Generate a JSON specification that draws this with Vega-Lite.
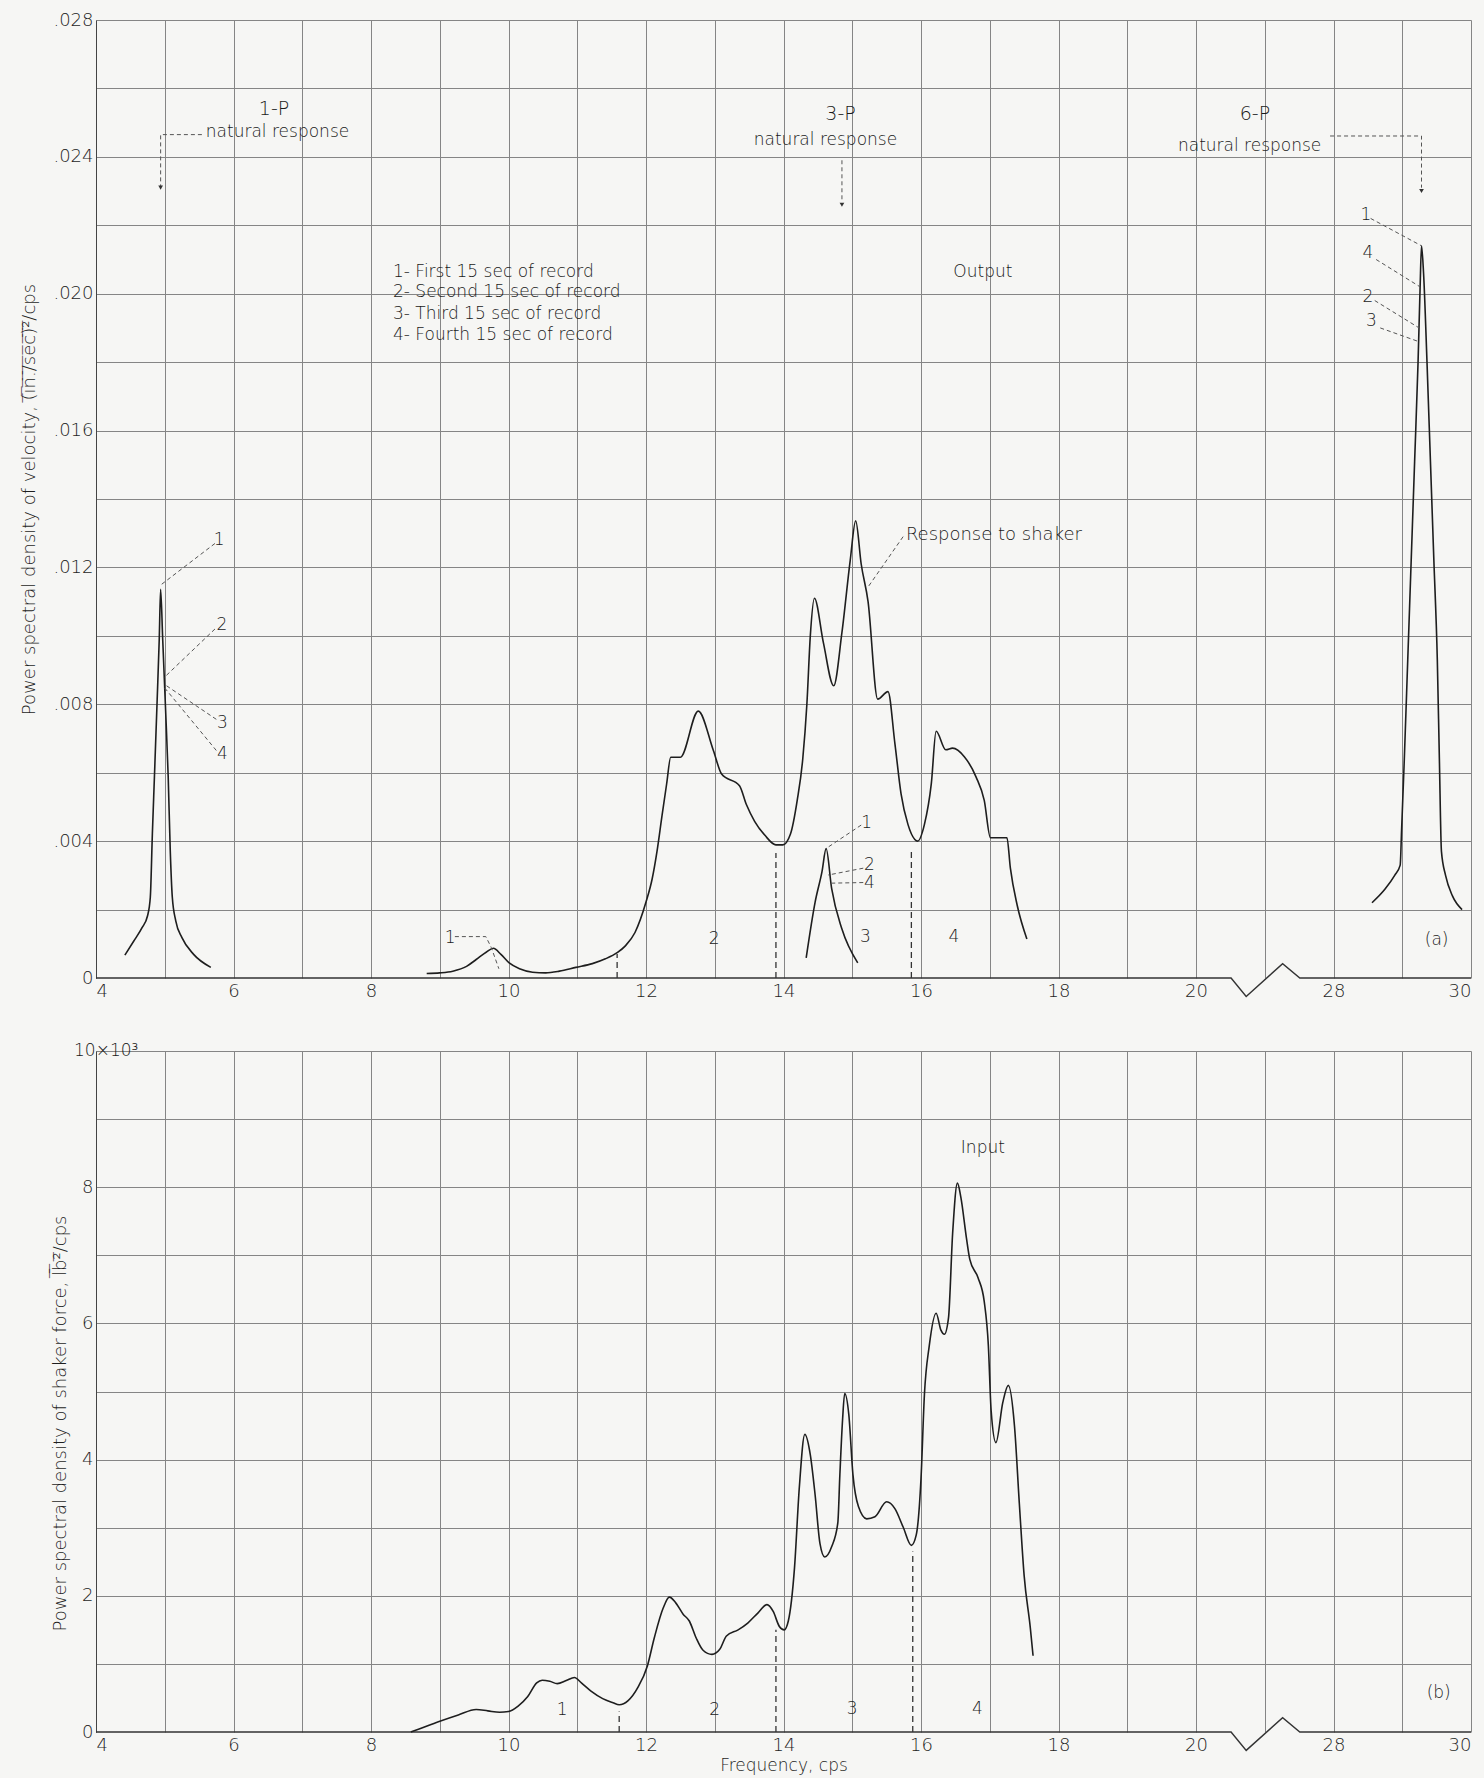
{
  "$schema": "https://vega.github.io/schema/vega-lite/v6.json",
  "background": "#f6f6f4",
  "padding": {"left": 20, "top": 11, "right": 10, "bottom": 5},
  "config": {
    "font": "DejaVu Sans",
    "view": {"stroke": null},
    "axis": {"labelFont": "DejaVu Sans", "titleFont": "DejaVu Sans", "labelFontSize": 18, "titleFontSize": 18, "labelColor": "#1e1e1e", "titleColor": "#1e1e1e", "labelFontWeight": 200, "titleFontWeight": 200, "ticks": false, "gridColor": "#858585", "gridWidth": 1, "domainColor": "#444", "labelOverlap": false},
    "text": {"font": "DejaVu Sans", "color": "#1a1a1a", "fontWeight": 200}
  },
  "datasets": {
    "top_axis": [{"x": 4, "y": 0}, {"x": 22.04, "y": 0}, {"x": 22.92, "y": -0.00054}, {"x": 25.04, "y": 0.00042}, {"x": 26.04, "y": 0}, {"x": 30, "y": 0}],
    "bot_axis": [{"x": 4, "y": 0}, {"x": 22.04, "y": 0}, {"x": 22.92, "y": -0.27}, {"x": 25.04, "y": 0.21}, {"x": 26.04, "y": 0}, {"x": 30, "y": 0}],
    "top_curves": [
      {"seg": "p1", "x": 4.42, "y": 0.00067}, {"seg": "p1", "x": 4.55, "y": 0.00108}, {"seg": "p1", "x": 4.67, "y": 0.00147}, {"seg": "p1", "x": 4.75, "y": 0.00182}, {"seg": "p1", "x": 4.79, "y": 0.00236}, {"seg": "p1", "x": 4.82, "y": 0.00422}, {"seg": "p1", "x": 4.85, "y": 0.00589}, {"seg": "p1", "x": 4.89, "y": 0.00815}, {"seg": "p1", "x": 4.92, "y": 0.00991}, {"seg": "p1", "x": 4.94, "y": 0.01136}, {"seg": "p1", "x": 4.97, "y": 0.00991}, {"seg": "p1", "x": 5.01, "y": 0.00795}, {"seg": "p1", "x": 5.05, "y": 0.00589}, {"seg": "p1", "x": 5.08, "y": 0.00373}, {"seg": "p1", "x": 5.11, "y": 0.00236}, {"seg": "p1", "x": 5.16, "y": 0.00167}, {"seg": "p1", "x": 5.25, "y": 0.00118}, {"seg": "p1", "x": 5.42, "y": 0.00069}, {"seg": "p1", "x": 5.67, "y": 0.00031},
      {"seg": "main", "x": 8.81, "y": 0.00013}, {"seg": "main", "x": 9.0, "y": 0.00015}, {"seg": "main", "x": 9.19, "y": 0.0002}, {"seg": "main", "x": 9.39, "y": 0.00034}, {"seg": "main", "x": 9.53, "y": 0.00054}, {"seg": "main", "x": 9.68, "y": 0.00076}, {"seg": "main", "x": 9.78, "y": 0.00087}, {"seg": "main", "x": 9.89, "y": 0.00069}, {"seg": "main", "x": 10.01, "y": 0.00044}, {"seg": "main", "x": 10.16, "y": 0.00027}, {"seg": "main", "x": 10.35, "y": 0.00017}, {"seg": "main", "x": 10.54, "y": 0.00015}, {"seg": "main", "x": 10.74, "y": 0.0002}, {"seg": "main", "x": 10.98, "y": 0.00031}, {"seg": "main", "x": 11.22, "y": 0.00042}, {"seg": "main", "x": 11.41, "y": 0.00056}, {"seg": "main", "x": 11.58, "y": 0.00074}, {"seg": "main", "x": 11.7, "y": 0.00094}, {"seg": "main", "x": 11.84, "y": 0.00133}, {"seg": "main", "x": 12.0, "y": 0.00222}, {"seg": "main", "x": 12.09, "y": 0.0029}, {"seg": "main", "x": 12.16, "y": 0.0037}, {"seg": "main", "x": 12.23, "y": 0.0047}, {"seg": "main", "x": 12.3, "y": 0.00567}, {"seg": "main", "x": 12.36, "y": 0.00645}, {"seg": "main", "x": 12.5, "y": 0.00645}, {"seg": "main", "x": 12.76, "y": 0.0078}, {"seg": "main", "x": 12.98, "y": 0.00665}, {"seg": "main", "x": 13.1, "y": 0.00596}, {"seg": "main", "x": 13.36, "y": 0.00562}, {"seg": "main", "x": 13.46, "y": 0.00507}, {"seg": "main", "x": 13.58, "y": 0.00458}, {"seg": "main", "x": 13.73, "y": 0.00417}, {"seg": "main", "x": 13.89, "y": 0.00389}, {"seg": "main", "x": 13.99, "y": 0.00389}, {"seg": "main", "x": 14.1, "y": 0.0042}, {"seg": "main", "x": 14.2, "y": 0.0052}, {"seg": "main", "x": 14.28, "y": 0.0064}, {"seg": "main", "x": 14.34, "y": 0.008}, {"seg": "main", "x": 14.39, "y": 0.01}, {"seg": "main", "x": 14.45, "y": 0.0111}, {"seg": "main", "x": 14.58, "y": 0.0098}, {"seg": "main", "x": 14.73, "y": 0.00854}, {"seg": "main", "x": 14.85, "y": 0.0101}, {"seg": "main", "x": 14.97, "y": 0.0122}, {"seg": "main", "x": 15.05, "y": 0.01336}, {"seg": "main", "x": 15.13, "y": 0.0121}, {"seg": "main", "x": 15.23, "y": 0.011}, {"seg": "main", "x": 15.37, "y": 0.00815}, {"seg": "main", "x": 15.52, "y": 0.00837}, {"seg": "main", "x": 15.62, "y": 0.00686}, {"seg": "main", "x": 15.71, "y": 0.00538}, {"seg": "main", "x": 15.81, "y": 0.00449}, {"seg": "main", "x": 15.91, "y": 0.00405}, {"seg": "main", "x": 15.95, "y": 0.004}, {"seg": "main", "x": 16.05, "y": 0.00449}, {"seg": "main", "x": 16.15, "y": 0.00568}, {"seg": "main", "x": 16.22, "y": 0.00721}, {"seg": "main", "x": 16.36, "y": 0.00667}, {"seg": "main", "x": 16.46, "y": 0.00672}, {"seg": "main", "x": 16.63, "y": 0.00647}, {"seg": "main", "x": 16.8, "y": 0.00588}, {"seg": "main", "x": 16.92, "y": 0.00519}, {"seg": "main", "x": 17.01, "y": 0.0041}, {"seg": "main", "x": 17.25, "y": 0.0041}, {"seg": "main", "x": 17.3, "y": 0.00321}, {"seg": "main", "x": 17.4, "y": 0.00212}, {"seg": "main", "x": 17.54, "y": 0.00114},
      {"seg": "sub", "x": 14.33, "y": 0.00059}, {"seg": "sub", "x": 14.46, "y": 0.00222}, {"seg": "sub", "x": 14.56, "y": 0.00311}, {"seg": "sub", "x": 14.62, "y": 0.00378}, {"seg": "sub", "x": 14.7, "y": 0.00262}, {"seg": "sub", "x": 14.85, "y": 0.00143}, {"seg": "sub", "x": 15.08, "y": 0.00044},
      {"seg": "p6", "x": 28.56, "y": 0.0022}, {"seg": "p6", "x": 28.75, "y": 0.0026}, {"seg": "p6", "x": 28.89, "y": 0.003}, {"seg": "p6", "x": 28.97, "y": 0.0033}, {"seg": "p6", "x": 28.99, "y": 0.0043}, {"seg": "p6", "x": 29.03, "y": 0.0064}, {"seg": "p6", "x": 29.08, "y": 0.0093}, {"seg": "p6", "x": 29.13, "y": 0.0122}, {"seg": "p6", "x": 29.18, "y": 0.0151}, {"seg": "p6", "x": 29.23, "y": 0.018}, {"seg": "p6", "x": 29.26, "y": 0.0202}, {"seg": "p6", "x": 29.28, "y": 0.0214}, {"seg": "p6", "x": 29.31, "y": 0.0206}, {"seg": "p6", "x": 29.36, "y": 0.018}, {"seg": "p6", "x": 29.41, "y": 0.0151}, {"seg": "p6", "x": 29.46, "y": 0.0122}, {"seg": "p6", "x": 29.51, "y": 0.0093}, {"seg": "p6", "x": 29.54, "y": 0.0064}, {"seg": "p6", "x": 29.57, "y": 0.0037}, {"seg": "p6", "x": 29.63, "y": 0.003}, {"seg": "p6", "x": 29.73, "y": 0.0024}, {"seg": "p6", "x": 29.87, "y": 0.002}
    ],
    "top_rules": [{"x": 11.58, "y": 0, "y2": 0.0007}, {"x": 13.89, "y": 0, "y2": 0.00365}, {"x": 15.86, "y": 0, "y2": 0.0038}],
    "top_lead": [
      {"id": "a", "o": 0, "x": 5.54, "y": 0.02465}, {"id": "a", "o": 1, "x": 4.94, "y": 0.02465}, {"id": "a", "o": 2, "x": 4.94, "y": 0.02313},
      {"id": "b", "o": 0, "x": 14.85, "y": 0.0239}, {"id": "b", "o": 1, "x": 14.85, "y": 0.0227},
      {"id": "c", "o": 0, "x": 27.8, "y": 0.02461}, {"id": "c", "o": 1, "x": 29.28, "y": 0.02461}, {"id": "c", "o": 2, "x": 29.28, "y": 0.0231},
      {"id": "d1", "o": 0, "x": 5.73, "y": 0.0127}, {"id": "d1", "o": 1, "x": 4.95, "y": 0.0115},
      {"id": "d2", "o": 0, "x": 5.73, "y": 0.0102}, {"id": "d2", "o": 1, "x": 4.99, "y": 0.00878},
      {"id": "d3", "o": 0, "x": 5.75, "y": 0.00756}, {"id": "d3", "o": 1, "x": 4.99, "y": 0.00859},
      {"id": "d4", "o": 0, "x": 5.75, "y": 0.00665}, {"id": "d4", "o": 1, "x": 4.99, "y": 0.0085},
      {"id": "e", "o": 0, "x": 9.22, "y": 0.00121}, {"id": "e", "o": 1, "x": 9.67, "y": 0.00121}, {"id": "e", "o": 2, "x": 9.75, "y": 0.00089}, {"id": "e", "o": 3, "x": 9.86, "y": 0.00027},
      {"id": "f1", "o": 0, "x": 15.13, "y": 0.00447}, {"id": "f1", "o": 1, "x": 14.63, "y": 0.0038},
      {"id": "f2", "o": 0, "x": 15.16, "y": 0.00321}, {"id": "f2", "o": 1, "x": 14.65, "y": 0.00301},
      {"id": "f4", "o": 0, "x": 15.16, "y": 0.00279}, {"id": "f4", "o": 1, "x": 14.65, "y": 0.00277},
      {"id": "g", "o": 0, "x": 15.74, "y": 0.0129}, {"id": "g", "o": 1, "x": 15.22, "y": 0.0114},
      {"id": "h1", "o": 0, "x": 28.54, "y": 0.0222}, {"id": "h1", "o": 1, "x": 29.28, "y": 0.0214},
      {"id": "h4", "o": 0, "x": 28.62, "y": 0.021}, {"id": "h4", "o": 1, "x": 29.26, "y": 0.0202},
      {"id": "h2", "o": 0, "x": 28.6, "y": 0.0198}, {"id": "h2", "o": 1, "x": 29.245, "y": 0.019},
      {"id": "h3", "o": 0, "x": 28.68, "y": 0.019}, {"id": "h3", "o": 1, "x": 29.24, "y": 0.0186}
    ],
    "top_dots": [{"x": 4.94, "y": 0.0231}, {"x": 14.85, "y": 0.0226}, {"x": 29.28, "y": 0.023}],
    "top_text": [
      {"k": "h", "x": 6.59, "y": 0.0254, "t": "1-P"},
      {"k": "s", "x": 6.64, "y": 0.02472, "t": "natural response"},
      {"k": "h", "x": 14.83, "y": 0.02525, "t": "3-P"},
      {"k": "s", "x": 14.61, "y": 0.0245, "t": "natural response"},
      {"k": "h", "x": 23.43, "y": 0.02525, "t": "6-P"},
      {"k": "s", "x": 23.12, "y": 0.02432, "t": "natural response"},
      {"k": "l", "x": 8.32, "y": 0.02064, "t": "1- First 15 sec of record"},
      {"k": "l", "x": 8.32, "y": 0.02005, "t": "2- Second 15 sec of record"},
      {"k": "l", "x": 8.32, "y": 0.01942, "t": "3- Third 15 sec of record"},
      {"k": "l", "x": 8.32, "y": 0.01878, "t": "4- Fourth 15 sec of record"},
      {"k": "r", "x": 15.78, "y": 0.01294, "t": "Response to shaker"},
      {"k": "n", "x": 16.9, "y": 0.02064, "t": "Output"},
      {"k": "n", "x": 5.79, "y": 0.0128, "t": "1"},
      {"k": "n", "x": 5.83, "y": 0.01032, "t": "2"},
      {"k": "n", "x": 5.84, "y": 0.00744, "t": "3"},
      {"k": "n", "x": 5.84, "y": 0.00656, "t": "4"},
      {"k": "n", "x": 9.15, "y": 0.00118, "t": "1"},
      {"k": "n", "x": 12.99, "y": 0.00113, "t": "2"},
      {"k": "n", "x": 15.19, "y": 0.00121, "t": "3"},
      {"k": "n", "x": 16.48, "y": 0.00119, "t": "4"},
      {"k": "n", "x": 15.21, "y": 0.00454, "t": "1"},
      {"k": "n", "x": 15.25, "y": 0.00331, "t": "2"},
      {"k": "n", "x": 15.25, "y": 0.00277, "t": "4"},
      {"k": "n", "x": 28.47, "y": 0.0223, "t": "1"},
      {"k": "n", "x": 28.5, "y": 0.0212, "t": "4"},
      {"k": "n", "x": 28.5, "y": 0.0199, "t": "2"},
      {"k": "n", "x": 28.55, "y": 0.0192, "t": "3"},
      {"k": "n", "x": 29.5, "y": 0.0011, "t": "(a)"}
    ],
    "bot_curve": [
      {"x": 8.58, "y": 0}, {"x": 8.69, "y": 0.04}, {"x": 8.98, "y": 0.15}, {"x": 9.27, "y": 0.25}, {"x": 9.53, "y": 0.33}, {"x": 9.7, "y": 0.31}, {"x": 9.87, "y": 0.29}, {"x": 10.0, "y": 0.3}, {"x": 10.14, "y": 0.38}, {"x": 10.28, "y": 0.52}, {"x": 10.41, "y": 0.72}, {"x": 10.49, "y": 0.76}, {"x": 10.6, "y": 0.745}, {"x": 10.71, "y": 0.71}, {"x": 10.84, "y": 0.755}, {"x": 10.96, "y": 0.8}, {"x": 11.06, "y": 0.72}, {"x": 11.2, "y": 0.6}, {"x": 11.37, "y": 0.49}, {"x": 11.52, "y": 0.43}, {"x": 11.61, "y": 0.4}, {"x": 11.74, "y": 0.46}, {"x": 11.88, "y": 0.65}, {"x": 12.02, "y": 0.97}, {"x": 12.12, "y": 1.38}, {"x": 12.25, "y": 1.82}, {"x": 12.34, "y": 1.98}, {"x": 12.43, "y": 1.9}, {"x": 12.54, "y": 1.73}, {"x": 12.63, "y": 1.63}, {"x": 12.73, "y": 1.38}, {"x": 12.83, "y": 1.2}, {"x": 12.96, "y": 1.14}, {"x": 13.07, "y": 1.21}, {"x": 13.17, "y": 1.41}, {"x": 13.34, "y": 1.5}, {"x": 13.48, "y": 1.6}, {"x": 13.63, "y": 1.75}, {"x": 13.76, "y": 1.87}, {"x": 13.85, "y": 1.77}, {"x": 13.94, "y": 1.55}, {"x": 14.01, "y": 1.5}, {"x": 14.07, "y": 1.63}, {"x": 14.16, "y": 2.41}, {"x": 14.23, "y": 3.59}, {"x": 14.31, "y": 4.37}, {"x": 14.39, "y": 4.07}, {"x": 14.46, "y": 3.48}, {"x": 14.53, "y": 2.77}, {"x": 14.6, "y": 2.57}, {"x": 14.7, "y": 2.72}, {"x": 14.79, "y": 3.07}, {"x": 14.82, "y": 3.78}, {"x": 14.86, "y": 4.6}, {"x": 14.89, "y": 4.97}, {"x": 14.95, "y": 4.66}, {"x": 15.01, "y": 3.78}, {"x": 15.09, "y": 3.31}, {"x": 15.21, "y": 3.13}, {"x": 15.33, "y": 3.16}, {"x": 15.5, "y": 3.38}, {"x": 15.62, "y": 3.28}, {"x": 15.74, "y": 3.01}, {"x": 15.86, "y": 2.74}, {"x": 15.93, "y": 2.89}, {"x": 16.0, "y": 3.72}, {"x": 16.05, "y": 4.96}, {"x": 16.12, "y": 5.67}, {"x": 16.22, "y": 6.15}, {"x": 16.29, "y": 5.9}, {"x": 16.34, "y": 5.84}, {"x": 16.4, "y": 6.08}, {"x": 16.46, "y": 7.32}, {"x": 16.53, "y": 8.06}, {"x": 16.58, "y": 7.85}, {"x": 16.66, "y": 7.26}, {"x": 16.71, "y": 6.94}, {"x": 16.83, "y": 6.67}, {"x": 16.92, "y": 6.32}, {"x": 16.98, "y": 5.67}, {"x": 17.02, "y": 4.72}, {"x": 17.09, "y": 4.25}, {"x": 17.19, "y": 4.84}, {"x": 17.27, "y": 5.09}, {"x": 17.36, "y": 4.49}, {"x": 17.43, "y": 3.36}, {"x": 17.5, "y": 2.3}, {"x": 17.59, "y": 1.53}, {"x": 17.63, "y": 1.12}
    ],
    "bot_rules": [{"x": 11.61, "y": 0, "y2": 0.3}, {"x": 13.89, "y": 0, "y2": 1.5}, {"x": 15.88, "y": 0, "y2": 2.65}],
    "bot_text": [
      {"x": 10.78, "y": 0.33, "t": "1"}, {"x": 13.0, "y": 0.33, "t": "2"}, {"x": 15.0, "y": 0.34, "t": "3"}, {"x": 16.82, "y": 0.34, "t": "4"}, {"x": 16.9, "y": 8.57, "t": "Input"}, {"x": 29.53, "y": 0.57, "t": "(b)"}
    ],
    "bot_corner": [{"x": 4, "y": 10, "t": "10×10³"}]
  },
  "spacing": 73,
  "bounds": "flush",
  "vconcat": [
    {
      "width": 1375,
      "height": 958,
      "encoding": {
        "x": {"field": "x", "type": "quantitative",
          "scale": {"domain": [4, 20, 28, 30], "range": [0, 1100, 1237.5, 1375], "nice": false, "zero": false},
          "axis": {"values": [4, 5, 6, 7, 8, 9, 10, 11, 12, 13, 14, 15, 16, 17, 18, 19, 20, 24, 28, 29, 30], "labelExpr": "indexof([4,6,8,10,12,14,16,18,20,28,30], datum.value) >= 0 ? datum.label : ''", "domain": false, "labelPadding": 4, "title": null}},
        "y": {"field": "y", "type": "quantitative",
          "scale": {"domain": [0, 0.028], "nice": false, "zero": false},
          "axis": {"values": [0, 0.002, 0.004, 0.006, 0.008, 0.01, 0.012, 0.014, 0.016, 0.018, 0.02, 0.022, 0.024, 0.026, 0.028], "labelExpr": "datum.value == 0 ? '0' : (round(datum.value * 1000) % 4 == 0 ? replace(format(datum.value, '.3f'), '0.', '.') : '')", "labelPadding": 3, "title": "Power spectral density of velocity, (\u0305i\u0305n\u0305.\u0305/\u0305s\u0305e\u0305c\u0305)\u0305\u00b2\u0305/cps", "titleX": -62, "titleBaseline": "alphabetic", "gridColor": {"condition": {"test": "datum.value == 0", "value": "transparent"}, "value": "#858585"}}}
      },
      "layer": [
        {"data": {"name": "top_axis"}, "mark": {"type": "line", "color": "#333", "strokeWidth": 1.4, "clip": false}},
        {"data": {"name": "top_curves"}, "mark": {"type": "line", "color": "#1e1e1e", "strokeWidth": 1.6, "interpolate": "monotone", "clip": false}, "encoding": {"detail": {"field": "seg"}}},
        {"data": {"name": "top_rules"}, "mark": {"type": "rule", "color": "#333", "strokeWidth": 1.3, "strokeDash": [6, 4]}, "encoding": {"y2": {"field": "y2"}}},
        {"data": {"name": "top_lead"}, "mark": {"type": "line", "color": "#555", "strokeWidth": 1, "strokeDash": [4, 3]}, "encoding": {"detail": {"field": "id"}, "order": {"field": "o"}}},
        {"data": {"name": "top_dots"}, "mark": {"type": "point", "shape": "triangle-down", "filled": true, "color": "#333", "size": 22, "opacity": 1}},
        {"data": {"name": "top_text"}, "transform": [{"filter": "datum.k == 'h'"}], "mark": {"type": "text", "fontSize": 19, "align": "center", "baseline": "middle"}, "encoding": {"text": {"field": "t"}}},
        {"data": {"name": "top_text"}, "transform": [{"filter": "datum.k == 's'"}], "mark": {"type": "text", "fontSize": 17, "align": "center", "baseline": "middle"}, "encoding": {"text": {"field": "t"}}},
        {"data": {"name": "top_text"}, "transform": [{"filter": "datum.k == 'n'"}], "mark": {"type": "text", "fontSize": 17, "align": "center", "baseline": "middle"}, "encoding": {"text": {"field": "t"}}},
        {"data": {"name": "top_text"}, "transform": [{"filter": "datum.k == 'l'"}], "mark": {"type": "text", "fontSize": 17, "align": "left", "baseline": "middle"}, "encoding": {"text": {"field": "t"}}},
        {"data": {"name": "top_text"}, "transform": [{"filter": "datum.k == 'r'"}], "mark": {"type": "text", "fontSize": 18, "align": "left", "baseline": "middle"}, "encoding": {"text": {"field": "t"}}}
      ]
    },
    {
      "width": 1375,
      "height": 681,
      "encoding": {
        "x": {"field": "x", "type": "quantitative",
          "scale": {"domain": [4, 20, 28, 30], "range": [0, 1100, 1237.5, 1375], "nice": false, "zero": false},
          "axis": {"values": [4, 5, 6, 7, 8, 9, 10, 11, 12, 13, 14, 15, 16, 17, 18, 19, 20, 24, 28, 29, 30], "labelExpr": "indexof([4,6,8,10,12,14,16,18,20,28,30], datum.value) >= 0 ? datum.label : ''", "domain": false, "labelPadding": 4, "title": "Frequency, cps", "titleFontSize": 17, "titlePadding": 3}},
        "y": {"field": "y", "type": "quantitative",
          "scale": {"domain": [0, 10], "nice": false, "zero": false},
          "axis": {"values": [0, 1, 2, 3, 4, 5, 6, 7, 8, 9, 10], "labelExpr": "datum.value % 2 == 0 && datum.value < 10 ? datum.label : ''", "labelPadding": 3, "title": "Power spectral density of shaker force, l\u0305b\u0305\u00b2\u0305/cps", "titleX": -31, "titleY": 372, "titleBaseline": "alphabetic", "gridColor": {"condition": {"test": "datum.value == 0", "value": "transparent"}, "value": "#858585"}}}
      },
      "layer": [
        {"data": {"name": "bot_axis"}, "mark": {"type": "line", "color": "#333", "strokeWidth": 1.4, "clip": false}},
        {"data": {"name": "bot_curve"}, "mark": {"type": "line", "color": "#1e1e1e", "strokeWidth": 1.6, "interpolate": "monotone", "clip": false}},
        {"data": {"name": "bot_rules"}, "mark": {"type": "rule", "color": "#333", "strokeWidth": 1.3, "strokeDash": [6, 4]}, "encoding": {"y2": {"field": "y2"}}},
        {"data": {"name": "bot_text"}, "mark": {"type": "text", "fontSize": 17, "align": "center", "baseline": "middle"}, "encoding": {"text": {"field": "t"}}},
        {"data": {"name": "bot_corner"}, "mark": {"type": "text", "fontSize": 17, "align": "left", "baseline": "middle", "dx": -22}, "encoding": {"text": {"field": "t"}}}
      ]
    }
  ]
}
